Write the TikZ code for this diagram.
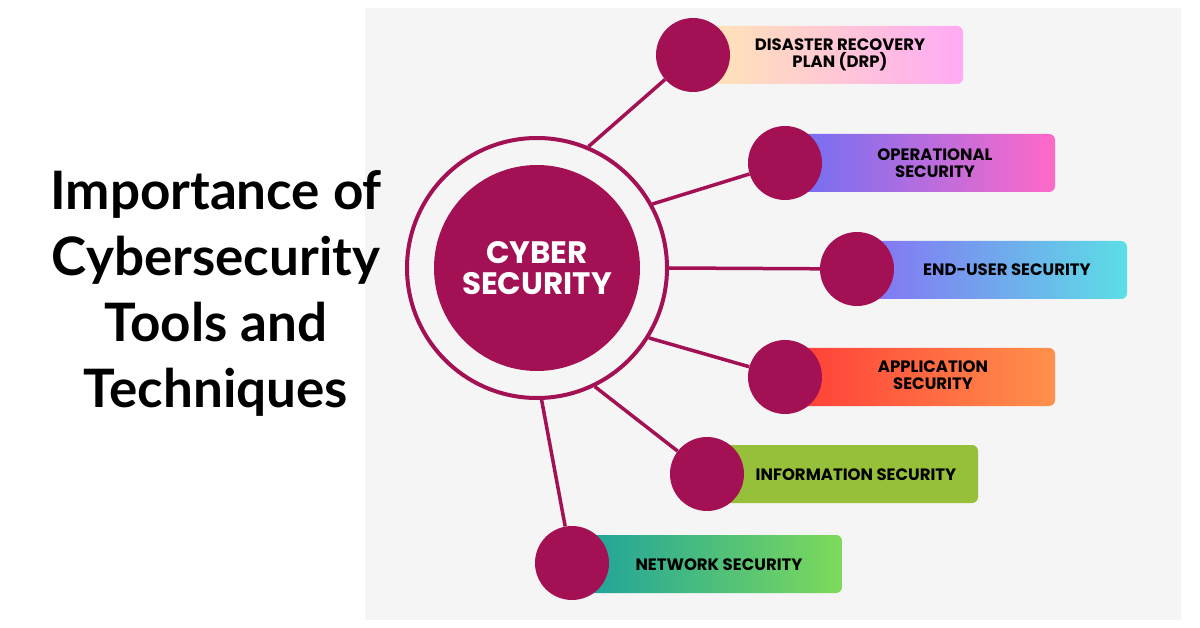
\documentclass[tikz,border=0pt]{standalone}
\usepackage{fontspec}
\setmainfont{Lato}
\newfontfamily\labelfont{Poppins}
\definecolor{mag}{RGB}{163,16,84}
\definecolor{panel}{RGB}{245,245,245}
\definecolor{drpL}{RGB}{255,232,178}\definecolor{drpR}{RGB}{255,170,245}
\definecolor{opsL}{RGB}{106,112,245}\definecolor{opsR}{RGB}{255,105,200}
\definecolor{endL}{RGB}{135,110,245}\definecolor{endR}{RGB}{92,222,230}
\definecolor{appL}{RGB}{255,60,55}\definecolor{appR}{RGB}{255,145,75}
\definecolor{infoC}{RGB}{150,192,58}
\definecolor{netL}{RGB}{25,160,160}\definecolor{netR}{RGB}{125,218,90}
\tikzset{
  bar/.style={rectangle, rounded corners=6pt, minimum height=58pt, inner sep=0pt},
  lbl/.style={align=center, inner sep=0pt, font=\labelfont\bfseries\fontsize{16.5}{17}\selectfont, text=black},
  dot/.style={circle, fill=mag, minimum size=74pt, inner sep=0pt},
  spoke/.style={draw=mag, line width=3.5pt},
  title/.style={align=center, font=\bfseries\fontsize{53}{66}\selectfont, text=black}
}
\begin{document}
\begin{tikzpicture}[x=1pt,y=-1pt]
\useasboundingbox (0,0) rectangle (1200,628);
\fill[white] (0,0) rectangle (1200,628);
\fill[panel] (365,8) rectangle (1181,620);
% title
\node[title] (ttl) at (216,293) {Importance of\\Cybersecurity\\Tools and\\Techniques};
% hub
\node[circle, draw=mag, line width=4pt, minimum size=260pt, inner sep=0pt] (hub) at (537,268) {};
\node[circle, fill=mag, minimum size=206pt, inner sep=0pt, align=center, text=white,
  font=\labelfont\bfseries\fontsize{31}{31}\selectfont] (core) at (537,268) {CYBER\\SECURITY};
% bars (left edge at dot centre, right edge as in the picture)
\node[bar, minimum width=270pt, left color=drpL, right color=drpR] (b1) at (828,55) {};
\node[bar, minimum width=270pt, left color=opsL, right color=opsR] (b2) at (920,163) {};
\node[bar, minimum width=270pt, left color=endL, right color=endR] (b3) at (992,270) {};
\node[bar, minimum width=270pt, left color=appL, right color=appR] (b4) at (920,377) {};
\node[bar, minimum width=271pt, fill=infoC] (b5) at (842.5,474) {};
\node[bar, minimum width=270pt, left color=netL, right color=netR] (b6) at (707,564) {};
% labels
\node[lbl] (t1) at (840,55) {DISASTER RECOVERY\\PLAN (DRP)};
\node[lbl] (t2) at (935,163) {OPERATIONAL\\SECURITY};
\node[lbl] (t3) at (1007,270) {END-USER SECURITY};
\node[lbl] (t4) at (933,375) {APPLICATION\\SECURITY};
\node[lbl] (t5) at (856,475) {INFORMATION SECURITY};
\node[lbl] (t6) at (719,565) {NETWORK SECURITY};
% dots
\node[dot] (d1) at (693,55) {};
\node[dot] (d2) at (785,163) {};
\node[dot] (d3) at (857,269) {};
\node[dot] (d4) at (785,377) {};
\node[dot] (d5) at (707,474) {};
\node[dot] (d6) at (572,563) {};
% spokes
\draw[spoke] (hub.67.9) -- (d1);
\draw[spoke] (hub.29.9) -- (d2);
\draw[spoke] (hub.0) -- (d3);
\draw[spoke] (hub.-32.5) -- (d4);
\draw[spoke] (hub.-64.6) -- (d5);
\draw[spoke] (hub.-88.7) -- (d6);
\end{tikzpicture}
\end{document}
